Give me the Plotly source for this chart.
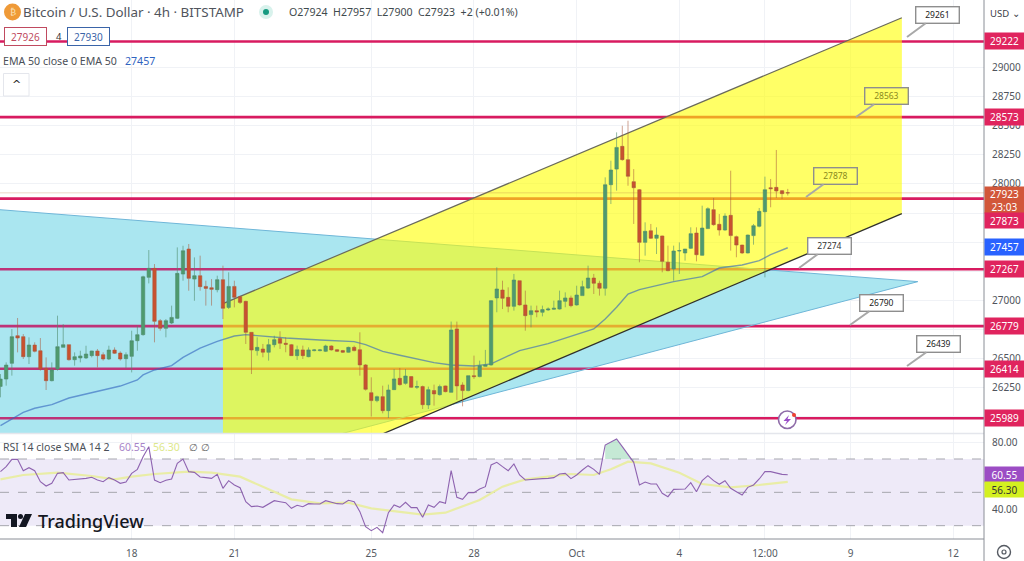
from datetime import datetime, timedelta
import plotly.graph_objects as go

# ---------- data ----------
start_time = datetime(2023, 9, 14, 4, 0)
opens = [26262,26325,26460,26697,26689,26517,26617,26568,26417,26311,26411,26597,26620,26491,26506,26506,26526,26566,26534,26497,26574,26548,26500,26520,26654,26706,27198,27275,26826,26760,26806,26846,27226,27441,27183,27212,27120,27109,27092,27178,26940,27120,27032,26992,26726,
26569,26583,26555,26620,26672,26632,26620,26526,26575,26517,26569,26569,26563,26609,26577,26569,26555,26597,26577,26446,26208,26140,26174,26054,26234,26331,26288,26346,26254,26260,26103,26226,26191,26266,26211,26755,26274,26226,26354,26346,26434,26446,
27021,27089,27026,26949,27169,26961,26878,26912,26898,26918,26924,26926,26992,27021,26961,27041,27106,27192,27147,27104,27993,28127,28322,28208,28019,27950,27498,27598,27533,27553,27327,27270,27424,27407,27447,27578,27387,27616,27779,27653,27604,27730,27547,27475,27407,27556,27636,27761,27967,27970,27942,27924]
highs = [26368,26468,26754,26849,26711,26683,26640,26677,26511,26468,26869,26797,26620,26554,26568,26611,26568,26583,26554,26611,26597,26563,26554,26740,26783,27212,27432,27312,26840,26840,26955,27455,27469,27484,27369,27384,27169,27183,27212,27298,27241,27169,27040,26997,26726,
26683,26626,26669,26697,26735,26683,26626,26612,26612,26597,26583,26583,26620,26615,26583,26575,26603,26612,26726,26454,26340,26183,26268,26277,26411,26420,26411,26349,26311,26269,26260,26277,26277,26269,26818,26818,26297,26354,26526,26483,26575,27003,
27284,27169,27112,27227,27169,27084,26955,26955,26955,26940,26998,27084,27069,27041,27126,27169,27298,27227,27169,28056,28199,28442,28499,28542,28127,27956,27670,27656,27627,27556,27470,27470,27498,27441,27627,27627,27813,27799,27879,27741,27747,28113,27556,27478,27564,27656,27793,28062,28042,28291,27947,27957]
lows = [26168,26268,26354,26554,26497,26454,26554,26397,26231,26305,26397,26597,26483,26440,26468,26497,26511,26425,26483,26488,26540,26483,26420,26382,26568,26697,27146,26640,26740,26683,26797,26840,27169,27083,26997,27083,26955,26955,27069,26840,26926,26940,26969,26626,26368,
26526,26512,26483,26597,26583,26555,26526,26489,26497,26512,26563,26563,26557,26569,26557,26549,26552,26563,26354,26226,26003,26126,26031,25991,26231,26269,26277,26248,26240,26068,26068,26097,26183,26211,26211,26146,26091,26220,26326,26340,26432,26440,
26898,26926,26898,26912,26955,26740,26769,26855,26863,26910,26918,26921,26941,26941,26955,27041,27098,27055,27041,27041,27827,27942,28199,27984,27656,27327,27384,27527,27398,27241,27250,27169,27227,27341,27441,27335,27384,27613,27641,27556,27598,27427,27370,27398,27404,27478,27627,27198,27799,27879,27870,27900]
closes = [26325,26445,26689,26677,26517,26617,26563,26411,26311,26403,26603,26620,26491,26517,26523,26540,26566,26526,26497,26574,26546,26497,26534,26654,26706,27203,27275,26820,26760,26826,26854,27232,27426,27189,27212,27118,27103,27095,27178,26932,27120,27026,26983,26726,26574,
26597,26555,26620,26663,26632,26623,26526,26577,26526,26575,26575,26575,26609,26575,26563,26555,26597,26569,26446,26237,26140,26174,26054,26231,26326,26277,26351,26254,26260,26105,26234,26197,26260,26217,26746,26266,26226,26354,26346,26440,26446,26998,
27098,27018,26949,27175,26961,26869,26912,26901,26921,26926,26932,26998,27021,26955,27046,27118,27192,27147,27104,27993,28119,28313,28208,28065,27967,27498,27593,27533,27561,27335,27255,27424,27427,27441,27573,27392,27621,27787,27650,27604,27724,27556,27475,27407,27561,27641,27764,27950,27959,27939,27916,27923]

ema_idx = [0,2,4,6,9,12,15,18,21,24,25,27,30,32,35,38,41,43,45,50,56,62,64,67,70,73,76,79,83,86,91,96,100,104,106,108,110,112,118,123,126,130,133,135,138]
ema_val = [25925,25979,26039,26074,26105,26162,26197,26234,26265,26317,26360,26403,26440,26511,26591,26649,26694,26706,26697,26677,26660,26646,26620,26563,26529,26497,26466,26446,26437,26455,26569,26629,26689,26755,26841,26941,27055,27092,27161,27204,27278,27304,27341,27392,27452]

rsi_values = [62.4,65.4,69.8,69.8,63,64.8,63,56.4,53.8,55.4,61.4,61.8,57.4,57.6,57.8,58.4,59,57.4,56.4,58.8,57.4,55.4,56.2,61.4,63.8,71.4,77.4,57.4,55.8,57.2,58,67.4,70,62.4,62,59.2,58.8,58.4,60.8,52.4,57,54.4,52.8,44.4,41.4,41.8,41,43,45,44.4,43.8,40.4,42.2,41.4,43.2,43,43,45,44,43.2,43,45.2,44.4,38.4,29.4,27,29,25.8,37.8,42.4,41,
44,40.8,40.8,35,42.4,41,44.4,43.4,63,47,45.8,49.8,49.8,52,53.4,66.4,68,65.4,63,67,60.4,57.4,57.8,58,58.2,58.4,58.8,61,61.4,58.2,60.4,63.4,66,63.8,60.8,78.4,80,82,77.4,72.4,68,54.4,56.2,55,55,49.4,47.4,51.8,51.8,52,55.8,50.4,57,60,57,54.8,57,52.4,50.4,48.4,53,54.4,58,62.4,62.4,61.6,60.8,60.55]
sma_idx = [0,4,10,16,20,23,27,33,37,42,47,51,56,61,65,70,74,78,84,88,92,96,100,104,107,110,114,119,123,128,133,138]
sma_val = [57.8,60.4,61.8,59.8,57.8,59.4,61,62.4,61.8,59.4,51.8,45.8,43.4,43.8,40.4,38.2,36.6,37.8,45.4,53.4,57.8,59.4,61,60.4,63.8,68.4,67.4,61.8,55,53,54.4,56.3]

levels = [29222, 28573, 27873, 27267, 26779, 26414, 25989]
channel_idx = [39, 158, 158, 39]
channel_price = [26972, 29426, 27744, 25273]
triangle_idx = [-1, 160.8, -1]
triangle_price = [27782, 27161, 25071]

price_ticks = [29000,28750,28500,28250,28000,27750,27500,27250,27000,26750,26500,26250,26000]
price_labels = ["29000","28750","28500","28250","28000","","","","27000","","26500","26250",""]
rsi_ticks = [80, 60, 40]
rsi_tick_text = ["80.00", "", "40.00"]
time_ticks = [datetime(2023,9,18),datetime(2023,9,21),datetime(2023,9,25),datetime(2023,9,28),datetime(2023,10,1),datetime(2023,10,4),datetime(2023,10,6,12),datetime(2023,10,9),datetime(2023,10,12)]
time_labels = ["18","21","25","28","Oct","4","12:00","9","12"]

# callouts: value, tip px, text centre px, background, text colour
callouts = [("29261",907,37,937,15,"#FFFFFF","#222222"),
            ("28563",856,117,886,96,"#FFFF66","#8A8A20"),
            ("27878",806,197,835,176,"#FFFF66","#8A8A20"),
            ("27274",799,268,829,246,"#FFFFFF","#333333"),
            ("26790",850,325,881,303,"#FFFFFF","#222222"),
            ("26439",907,366,938,344,"#FFFFFF","#222222")]

# ---------- helpers ----------
W, H, PW = 1024, 561, 984
FONT = "Noto Sans"
def when(i):
    return start_time + timedelta(hours=4 * i)
times = [when(i) for i in range(len(closes))]
def px(x): return x / PW
def py(y): return 1 - y / H

RED_LINE = "#D81B60"
fig = go.Figure()

# base layer (below the yellow channel)
tri_x = [when(i) for i in triangle_idx]
fig.add_trace(go.Scatter(x=tri_x, y=triangle_price, mode="lines", fill="toself",
                         fillcolor="rgb(190,250,245)", line=dict(width=0), hoverinfo="skip"))
for lv in levels:
    fig.add_trace(go.Scatter(x=[when(-0.08), when(172.4)], y=[lv, lv], mode="lines",
                             line=dict(color=RED_LINE, width=2.6), hoverinfo="skip"))
fig.add_trace(go.Scatter(x=tri_x, y=triangle_price, mode="lines", fill="toself",
                         fillcolor="rgba(90,150,220,0.2)", line=dict(color="#6FB6D8", width=1), hoverinfo="skip"))
fig.add_trace(go.Scatter(x=[when(i) for i in channel_idx], y=channel_price, mode="lines", fill="toself",
                         fillcolor="rgba(255,255,0,0.6)", line=dict(width=0), hoverinfo="skip"))
fig.add_trace(go.Scatter(x=[when(channel_idx[0]), when(channel_idx[1])], y=channel_price[:2], mode="lines",
                         line=dict(color="#6A6A5C", width=1.2), hoverinfo="skip"))
fig.add_trace(go.Scatter(x=[when(channel_idx[3]), when(channel_idx[2])], y=[channel_price[3], channel_price[2]], mode="lines",
                         line=dict(color="#30302C", width=1.3), hoverinfo="skip"))
fig.add_trace(go.Scatter(x=[when(i) for i in ema_idx], y=ema_val, mode="lines",
                         line=dict(color="rgba(50,100,190,0.62)", width=1.4), hoverinfo="skip"))
fig.add_trace(go.Scatter(x=[when(-0.08), when(172.4)], y=[closes[-1], closes[-1]], mode="lines",
                         line=dict(color="rgba(190,120,70,0.3)", width=1), hoverinfo="skip"))

# candles on an overlay so they sit on top of the fills
fig.add_trace(go.Candlestick(x=times, open=opens, high=highs, low=lows, close=closes, yaxis="y3", xaxis="x",
                             increasing=dict(line=dict(color="rgba(80,140,110,0.6)", width=1), fillcolor="#4F9A6E"),
                             decreasing=dict(line=dict(color="rgba(170,90,60,0.55)", width=1), fillcolor="#C9512F"),
                             whiskerwidth=0, hoverinfo="skip"))

# RSI pane
fig.add_trace(go.Scatter(x=[when(-0.08), when(172.4), when(172.4), when(-0.08)], y=[70, 70, 30, 30], yaxis="y2", mode="lines",
                         fill="toself", fillcolor="#EEEAF8", line=dict(width=0), hoverinfo="skip"))
for lv in (70, 50, 30):
    fig.add_trace(go.Scatter(x=[when(-0.08), when(172.4)], y=[lv, lv], yaxis="y2", mode="lines",
                             line=dict(color="#A6A6AE", width=1, dash="dash"), hoverinfo="skip"))
pk = list(range(106, 112))
fig.add_trace(go.Scatter(x=[times[i] for i in pk] + [times[i] for i in reversed(pk)],
                         y=[rsi_values[i] for i in pk] + [70] * len(pk), yaxis="y2", mode="lines", fill="toself",
                         fillcolor="rgba(110,200,150,0.4)", line=dict(width=0), hoverinfo="skip"))
fig.add_trace(go.Scatter(x=[when(i) for i in sma_idx], y=sma_val, yaxis="y2", mode="lines",
                         line=dict(color="#E9EDA6", width=2.2), hoverinfo="skip"))
fig.add_trace(go.Scatter(x=times, y=rsi_values, yaxis="y2", mode="lines",
                         line=dict(color="#8E63B0", width=1.1), hoverinfo="skip"))

anns = []
def text(t, x, y, color="#4A4F58", size=10, anchor="left", weight=None, family=FONT):
    f = dict(family=family, size=size, color=color)
    if weight:
        f["weight"] = weight
    anns.append(dict(text=t, xref="paper", yref="paper", x=px(x), y=py(y), xanchor=anchor, yanchor="middle",
                     showarrow=False, font=f))

def tag(t, val, bg, color="#FFFFFF", ref="y", shift=0, h=16):
    anns.append(dict(text=t, xref="paper", yref=ref, x=1.0, y=val, yshift=shift, xanchor="left", yanchor="middle",
                     showarrow=False, width=39, height=h, bgcolor=bg, borderpad=0, align="center",
                     font=dict(family=FONT, size=10, color=color)))

# header texts
text("₿", 12.5, 12, size=9, color="#FBE3B8", anchor="center", family="DejaVu Sans")
text("Bitcoin / U.S. Dollar · 4h · BITSTAMP", 21, 12, size=13.4, color="#50545C")
text("O27924  H27957  L27900  C27923  +2 (+0.01%)", 287, 12, size=10.6, color="#3F4A4E")
text("4", 54, 36, size=9.5, color="#333333")
text("EMA 50 close 0 EMA 50", 1, 61, size=10.6, color="#4A4F58")
text("27457", 123, 61, size=10.6, color="#2F63C0")
text("RSI 14 close SMA 14 2", 1, 447, size=10.5, color="#4A4F58")
text("60.55", 117, 447, size=10.5, color="#A884C8")
text("56.30", 151, 447, size=10.5, color="#DDE88A")
text("∅", 187, 447, size=10, color="#666666")
text("∅", 199, 447, size=10, color="#666666")
text("TradingView", 36, 521, size=18, color="#131722", weight=500)
text("USD ⌄", 988, 13, size=9.5, color="#3C4048")
text("^", 16, 85, size=11, color="#222222", anchor="center", family="DejaVu Sans")
for label, x0, col in (("27926", 25, "#C04A60"), ("27930", 88, "#3A64A8")):
    anns.append(dict(text=label, xref="paper", yref="paper", x=px(x0), y=py(36.5), xanchor="center", yanchor="middle",
                     showarrow=False, width=41, height=17, bgcolor="#FFFFFF", bordercolor=col, borderwidth=1, borderpad=0,
                     font=dict(family=FONT, size=10, color=col)))

# callouts
for label, tx, ty, cx, cy, bg, col in callouts:
    anns.append(dict(text=label, xref="paper", yref="paper", x=px(tx), y=py(ty), axref="pixel", ayref="pixel",
                     ax=cx - tx, ay=cy - ty, showarrow=True, arrowhead=0, arrowwidth=2, arrowcolor="#A8A8A8",
                     width=42, height=15, bgcolor=bg, bordercolor="#8E8E8E", borderwidth=1.4, borderpad=0,
                     font=dict(family=FONT, size=8.5, color=col)))

# right scale tags
for lv in (29222, 28573, 27267, 26779, 26414, 25989):
    tag(str(lv), lv, "#E0245E")
tag("27923<br>23:03", 27923, "#D2573A", shift=-7, h=26)
tag("27873", 27873, "#E0245E", shift=-22, h=15)
tag("27457", 27457, "#2962FF")
tag("60.55", 60.55, "#9C4DC4", ref="y2", h=15)
tag("56.30", 56.30, "#D4F020", color="#333333", ref="y2", shift=-8, h=15)

# decorative shapes (icons and frame)
P = dict(xref="paper", yref="paper")
shapes = [
    dict(type="line", x0=0, x1=1, y0=py(433.5), y1=py(433.5), line=dict(color="#E4E6EC", width=1.5), **P),
    dict(type="line", x0=1, x1=1, y0=0, y1=1, line=dict(color="#8A8E96", width=1), **P),
    dict(type="line", x0=0, x1=1, y0=py(539), y1=py(539), line=dict(color="#8A8E96", width=1), **P),
    dict(type="circle", x0=px(4), x1=px(21), y0=py(20.5), y1=py(3.5), fillcolor="#EF9A38", line=dict(width=0), layer="below", **P),
    dict(type="circle", x0=px(259), x1=px(273), y0=py(19), y1=py(5), fillcolor="#D8F2EC", line=dict(width=0), **P),
    dict(type="circle", x0=px(263), x1=px(269), y0=py(15), y1=py(9), fillcolor="#159A80", line=dict(width=0), **P),
    dict(type="rect", x0=px(3.5), x1=px(29), y0=py(96), y1=py(73.5), fillcolor="#FFFFFF", line=dict(color="#E4E6EC", width=1), **P),
    dict(type="rect", x0=px(6), x1=px(17), y0=py(519), y1=py(514), fillcolor="#131722", line=dict(width=0), **P),
    dict(type="rect", x0=px(11), x1=px(17), y0=py(527), y1=py(514), fillcolor="#131722", line=dict(width=0), **P),
    dict(type="circle", x0=px(18), x1=px(23), y0=py(519), y1=py(514), fillcolor="#131722", line=dict(width=0), **P),
    dict(type="path", path=f"M {px(25)} {py(514)} L {px(32)} {py(514)} L {px(26)} {py(527)} L {px(19)} {py(527)} Z",
         fillcolor="#131722", line=dict(width=0), **P),
    dict(type="circle", x0=px(778.5), x1=px(796), y0=py(428.5), y1=py(411), fillcolor="#FFFFFF", line=dict(color="#8E6BA8", width=1.6), **P),
    dict(type="path", path=f"M {px(789)} {py(415)} L {px(783.5)} {py(421)} L {px(787)} {py(421)} L {px(785)} {py(425)} L {px(791)} {py(419)} L {px(787.5)} {py(419)} Z",
         fillcolor="#9A4DC8", line=dict(width=0), **P),
    dict(type="circle", x0=px(792), x1=px(796), y0=py(417), y1=py(413), fillcolor="#F04030", line=dict(width=0), **P),
    dict(type="circle", x0=px(997.5), x1=px(1010.5), y0=py(558.5), y1=py(545.5), fillcolor="rgba(0,0,0,0)", line=dict(color="#555A62", width=1.4), **P),
    dict(type="circle", x0=px(1002), x1=px(1006), y0=py(554), y1=py(550), fillcolor="rgba(0,0,0,0)", line=dict(color="#555A62", width=1.2), **P),
]

GRID = "#F0F2F6"
CLEAR = "rgba(255,255,255,0)"
price_range = [25862, 29578]
fig.update_layout(
    width=W, height=H, margin=dict(l=0, r=W - PW, t=0, b=0), autosize=False,
    paper_bgcolor="#FFFFFF", plot_bgcolor="#FFFFFF", showlegend=False, hovermode=False, boxgap=0.15,
    font=dict(family=FONT, size=10, color="#555A62"),
    annotations=anns, shapes=shapes,
    xaxis=dict(domain=[0, 1], type="date", range=[when(-0.08), when(172.4)], anchor="y2", rangeslider=dict(visible=False),
               tickmode="array", tickvals=time_ticks, ticktext=time_labels, ticks="outside", ticklen=5, tickcolor=CLEAR,
               showline=False, zeroline=False, showgrid=True, gridcolor=GRID, gridwidth=1,
               tickfont=dict(family=FONT, size=10, color="#555A62")),
    yaxis=dict(domain=[py(433), 1], range=price_range, side="right", tickmode="array", tickvals=price_ticks, ticktext=price_labels,
               ticks="outside", ticklen=5, tickcolor=CLEAR, showgrid=True, gridcolor=GRID, zeroline=False,
               showline=False, tickfont=dict(family=FONT, size=10, color="#50545C")),
    yaxis3=dict(range=price_range, overlaying="y", side="right", showticklabels=False, showgrid=False, zeroline=False, ticks=""),
    yaxis2=dict(domain=[py(539), py(434)], range=[22, 85], side="right", tickmode="array", tickvals=rsi_ticks, ticktext=rsi_tick_text,
                ticks="outside", ticklen=5, tickcolor=CLEAR, showgrid=True, gridcolor=GRID, zeroline=False,
                showline=False, tickfont=dict(family=FONT, size=10, color="#50545C")),
)
fig.write_html("out.html", config=dict(displayModeBar=False),
               post_script="document.body.style.margin='0';document.body.style.overflow='hidden';")
